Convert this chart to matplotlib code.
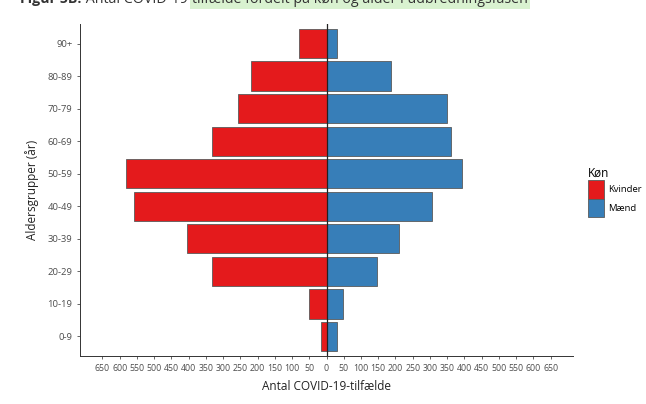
import matplotlib.pyplot as plt
import numpy as np
from matplotlib.patches import Patch

plt.rcParams["font.family"] = ["Open Sans", "DejaVu Sans"]

age_groups = ["0-9", "10-19", "20-29", "30-39", "40-49",
              "50-59", "60-69", "70-79", "80-89", "90+"]
kvinder = [17, 51, 333, 404, 558, 581, 333, 257, 219, 80]
maend = [30, 49, 147, 211, 305, 392, 361, 349, 186, 30]

tick_values = list(range(-650, 651, 50))

red = "#E41A1C"
blue = "#377EB8"
edge = "#5A5A5A"
tick_col = "#4D4D4D"

fig = plt.figure(figsize=(6.46, 4.04), dpi=100)
ax = fig.add_axes([80 / 646, 48 / 404, 493 / 646, 332 / 404])

y = np.arange(len(age_groups))
ax.barh(y, -np.array(kvinder), height=0.9, color=red, edgecolor=edge, linewidth=0.6)
ax.barh(y, maend, height=0.9, color=blue, edgecolor=edge, linewidth=0.6)
ax.axvline(0, color="#222222", linewidth=0.9)

ax.set_xlim(-715, 715)
ax.set_ylim(-0.6, 9.6)
ax.set_yticks(y)
ax.set_yticklabels(age_groups)
ax.set_xticks(tick_values)
ax.set_xticklabels([str(abs(v)) for v in tick_values])
ax.tick_params(axis="both", labelsize=6.8, colors=tick_col, length=2.5, width=0.6,
               labelcolor=tick_col, pad=3)
ax.tick_params(axis="x", labelsize=6.3)

for s in ["top", "right"]:
    ax.spines[s].set_visible(False)
for s in ["left", "bottom"]:
    ax.spines[s].set_color("#333333")
    ax.spines[s].set_linewidth(0.7)

ax.set_xlabel("Antal COVID-19-tilfælde", fontsize=8.5, color="#222222", labelpad=5)
ax.set_ylabel("Aldersgrupper (år)", fontsize=8.5, color="#222222", labelpad=6)

handles = [Patch(facecolor=red, edgecolor=edge, linewidth=0.6, label="Kvinder"),
           Patch(facecolor=blue, edgecolor=edge, linewidth=0.6, label="Mænd")]
leg = fig.legend(handles=handles, title="Køn", loc="upper left",
                 bbox_to_anchor=(581 / 646, 1 - 160 / 404), frameon=False,
                 fontsize=6.8, title_fontsize=8.5, handlelength=1.75, handleheight=2.7,
                 handletextpad=0.45, labelspacing=0.0, borderpad=0.2)
leg._legend_box.align = "left"

# cut-off caption at the very top
renderer = fig.canvas.get_renderer()
x0 = 20 / 646
y0 = 1 - 3.2 / 404
pieces = [("Figur 5B:", "bold", None), (" Antal COVID-19-", "normal", None),
          ("tilfælde fordelt på køn og alder i udbredningsfasen", "normal", "#D9F2D0")]
for txt, weight, bg in pieces:
    kw = {}
    if bg:
        kw["bbox"] = dict(facecolor=bg, edgecolor="none", pad=1.2)
    t = fig.text(x0, y0, txt, fontsize=10.3, fontweight=weight, color="#333333",
                 va="baseline", ha="left", **kw)
    bb = t.get_window_extent(renderer)
    x0 += bb.width / fig.bbox.width

fig.savefig("out.png", dpi=100)
